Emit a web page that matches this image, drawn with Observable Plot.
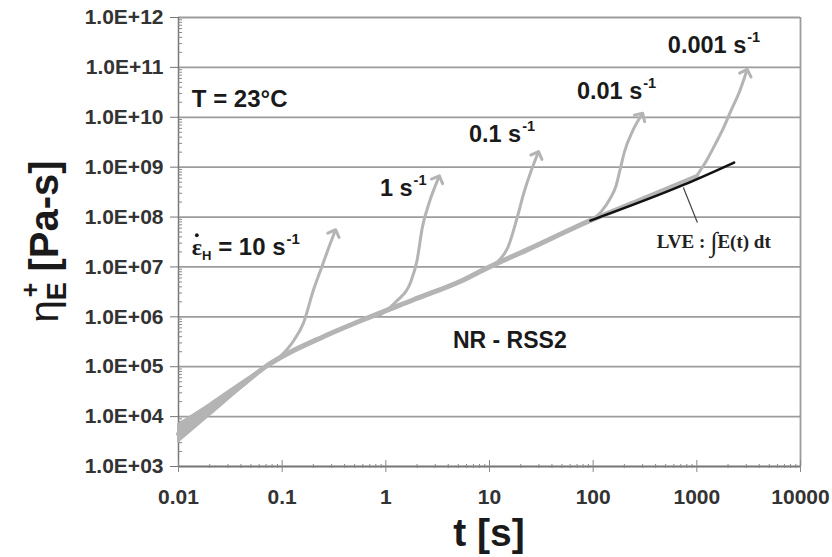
<!DOCTYPE html>
<html><head><meta charset="utf-8">
<script src="https://cdn.jsdelivr.net/npm/d3@7"></script>
<script src="https://cdn.jsdelivr.net/npm/@observablehq/plot@0.6"></script>
<style>
html,body{margin:0;padding:0;background:#fff;overflow:hidden}
svg{display:block}
</style></head><body><div id="chart"></div>
<script>
// ---- axes ----
const yTicks = [1e3, 1e4, 1e5, 1e6, 1e7, 1e8, 1e9, 1e10, 1e11, 1e12];
const yTickLabels = ["1.0E+03","1.0E+04","1.0E+05","1.0E+06","1.0E+07","1.0E+08","1.0E+09","1.0E+10","1.0E+11","1.0E+12"];
const xTicks = [0.01, 0.1, 1, 10, 100, 1000, 10000];
const xTickLabels = ["0.01","0.1","1","10","100","1000","10000"];

// ---- LVE envelope (grey band) ----
const lveT   = [0.01, 0.02, 0.04, 0.069, 0.1, 0.25, 0.66, 1.85, 5.6, 9.5, 23, 94, 300, 1000];
const lveEta = [4.5e3, 1.35e4, 4.1e4, 1.0e5, 1.6e5, 4.0e5, 9.4e5, 2.2e6, 5.5e6, 9.5e6, 2.2e7, 8.5e7, 2.3e8, 6.5e8];
// early-time spread of the individual tests (edges of the band)
const bandT       = [0.01, 0.02, 0.04, 0.069];
const bandLowEta  = [3.1e3, 1.05e4, 3.6e4, 1.0e5];
const bandHighEta = [7.0e3, 1.75e4, 4.7e4, 1.0e5];
// ---- LVE integral (black) ----
const lveIntT   = [94, 742, 2290];
const lveIntEta = [8.5e7, 4.4e8, 1.24e9];
// ---- strain-hardening curves ----
const rate10T   = [0.096, 0.13, 0.16, 0.20, 0.244, 0.274, 0.32];
const rate10Eta = [1.6e5, 3.4e5, 7.4e5, 3.4e6, 1.07e7, 2.1e7, 4.9e7];
const rate1T    = [0.89, 1.28, 1.73, 2.0, 2.25, 2.6, 3.2];
const rate1Eta  = [1.1e6, 2.1e6, 4.9e6, 1.35e7, 6.2e7, 1.85e8, 5.9e8];
const rate01T   = [9.5, 14.8, 18.5, 21.4, 25, 29];
const rate01Eta = [9.5e6, 2.3e7, 9.8e7, 3.0e8, 8.0e8, 1.8e9];
const rate001T   = [94, 120, 145, 166, 182, 200, 240, 290];
const rate001Eta = [8.5e7, 1.3e8, 2.3e8, 4.2e8, 9.0e8, 2.0e9, 5.3e9, 1.07e10];
const rate0001T   = [980, 1250, 1520, 1800, 2130, 2600, 3000];
const rate0001Eta = [6.4e8, 1.4e9, 3.0e9, 6.0e9, 1.35e10, 3.4e10, 8.0e10];

// ---- annotations ----
const rateLabelText = ["1 s", "0.1 s", "0.01 s", "0.001 s"];
const rateLabelT    = [0.887, 6.4, 70.5, 531];
const rateLabelEta  = [3.9e8, 4.7e9, 3.4e10, 2.8e11];

const rows = (name, T, E) => T.map((t, i) => ({series: name, t, eta: E[i]}));
const curves = [
  rows("10", rate10T, rate10Eta),
  rows("1", rate1T, rate1Eta),
  rows("0.1", rate01T, rate01Eta),
  rows("0.01", rate001T, rate001Eta),
  rows("0.001", rate0001T, rate0001Eta)
];
const lve = rows("LVE", lveT, lveEta);
const band = bandT.map((t, i) => ({t, lo: bandLowEta[i], hi: bandHighEta[i]}));
const lveInt = rows("LVEint", lveIntT, lveIntEta);
const minorY = d3.scaleLog().domain([1e3, 1e12]).ticks(90).filter(v => !yTicks.includes(v));
const minorX = d3.scaleLog().domain([0.01, 10000]).ticks(70).filter(v => !xTicks.includes(v));

const grey = "#b4b4b4";
const gridC = "#9c9c9c";
const font = "'Liberation Sans', Arial, Helvetica, sans-serif";

const chart = Plot.plot({
  width: 832, height: 557,
  marginLeft: 178, marginRight: 32, marginTop: 17, marginBottom: 91,
  style: {fontFamily: font, background: "#fff"},
  x: {type: "log", domain: [0.01, 10000]},
  y: {type: "log", domain: [1e3, 1e12]},
  marks: [
    Plot.ruleY(yTicks, {stroke: gridC, strokeWidth: 1.8}),
    Plot.ruleX([10000], {stroke: gridC, strokeWidth: 1.8}),
    Plot.ruleX([0.01], {stroke: "#777", strokeWidth: 1.5}),
    Plot.ruleY([1e3], {stroke: "#777", strokeWidth: 1.5}),
    // y ticks
    Plot.axisY({ticks: minorY, tickSize: 4, dx: 4, text: null, stroke: "#888", label: null}),
    Plot.axisY({ticks: yTicks, tickSize: 8, tickPadding: 7, tickFormat: d => yTickLabels[yTicks.indexOf(d)],
      fontSize: 21, fontWeight: "bold", color: "#333", stroke: "#777", label: null}),
    // x ticks
    Plot.axisX({ticks: minorX, tickSize: 4, dy: -2, text: null, stroke: "#888", label: null}),
    Plot.axisX({ticks: xTicks, tickSize: 12, dy: -6, text: null, stroke: "#888", label: null}),
    Plot.axisX({ticks: xTicks, tickSize: 0, tickPadding: 23, tickFormat: d => xTickLabels[xTicks.indexOf(d)],
      fontSize: 21, fontWeight: "bold", color: "#333", label: null}),
    // curves
    Plot.areaY(band, {x: "t", y1: "lo", y2: "hi", fill: grey, stroke: grey, strokeWidth: 2, curve: "monotone-x"}),
    Plot.line(lve, {x: "t", y: "eta", stroke: grey, strokeWidth: 5, curve: "monotone-x"}),
    ...curves.map(c => Plot.line(c, {x: "t", y: "eta", stroke: grey, strokeWidth: 3, curve: "monotone-x", markerEnd: "arrow"})),
    Plot.line(lveInt, {x: "t", y: "eta", stroke: "#111", strokeWidth: 2.5, curve: "monotone-x"}),
    // leader line for LVE label
    Plot.link([{t1: 741, e1: 3.9e8, t2: 1012, e2: 7.8e7}], {x1: "t1", y1: "e1", x2: "t2", y2: "e2", stroke: "#444", strokeWidth: 1.2})
  ]
});
document.getElementById("chart").appendChild(chart);

// ---- rich text annotations placed through the plot's scales ----
const sx = chart.scale("x"), sy = chart.scale("y");
const X = v => sx.apply(v), Y = v => sy.apply(v);
const svg = d3.select(chart);
const g = svg.append("g").attr("font-family", font).attr("fill", "#1a1a1a")
  .attr("font-weight", "bold").attr("text-anchor", "start");

function supLabel(text, t, eta, size) {
  const el = g.append("text").attr("x", X(t)).attr("y", Y(eta) + 0.36 * size).attr("font-size", size);
  el.append("tspan").text(text);
  el.append("tspan").attr("dy", -0.45 * size).attr("dx", 1).attr("font-size", size * 0.62).text("-1");
}
rateLabelText.forEach((s, i) => supLabel(s, rateLabelT[i], rateLabelEta[i], 23.5));

// T = 23°C
g.append("text").attr("x", X(0.0136)).attr("y", Y(2.37e10) + 0.36 * 24).attr("font-size", 24).text("T = 23°C");
// NR - RSS2
g.append("text").attr("x", X(4.49)).attr("y", Y(3.35e5) + 0.36 * 23).attr("font-size", 23).text("NR - RSS2");
// strain-rate label with dot, subscript H
{
  const size = 24, x0 = X(0.0136), yb = Y(2.5e7) + 0.36 * size;
  const el = g.append("text").attr("x", x0).attr("y", yb).attr("font-size", size);
  el.append("tspan").attr("font-family", "'Liberation Serif', serif").text("ε");
  el.append("tspan").attr("dy", 5).attr("font-size", 13).text("H");
  el.append("tspan").attr("dy", -5).text(" = 10 s");
  el.append("tspan").attr("dy", -0.45 * size).attr("dx", 1).attr("font-size", size * 0.62).text("-1");
  g.append("circle").attr("cx", x0 + 5).attr("cy", yb - 20).attr("r", 1.9).attr("fill", "#1a1a1a");
}
// LVE label (serif)
{
  const el = g.append("text").attr("x", X(416)).attr("y", Y(3.1e7) + 6)
    .attr("font-family", "'Liberation Serif', 'Times New Roman', serif").attr("font-size", 19).attr("fill", "#222");
  el.append("tspan").text("LVE : ");
  el.append("tspan").attr("font-size", 27).attr("font-weight", "normal").attr("dy", 3).text("∫");
  el.append("tspan").attr("dy", -3).text("E(t) dt");
}
// axis titles
const xm = (X(0.01) + X(10000)) / 2, ym = (Y(1e3) + Y(1e12)) / 2;
g.append("text").attr("x", xm).attr("y", 546).attr("text-anchor", "middle").attr("font-size", 39).text("t [s]");
{
  const el = g.append("text").attr("transform", `translate(58,${ym}) rotate(-90)`).attr("text-anchor", "middle").attr("font-size", 40);
  el.append("tspan").attr("font-weight", "normal").text("η");
  el.append("tspan").attr("dy", 8).attr("font-size", 27).text("E");
  el.append("tspan").attr("dy", -27).attr("dx", -15).attr("font-size", 25).text("+");
  el.append("tspan").attr("dy", 19).text(" [Pa-s]");
}
</script></body></html>
